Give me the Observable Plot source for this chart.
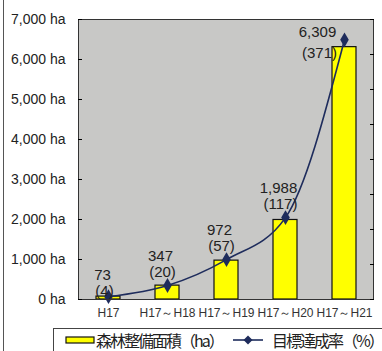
<!DOCTYPE html>
<html>
<head>
<meta charset="utf-8">
<script src="https://cdn.jsdelivr.net/npm/d3@7"></script>
<script src="https://cdn.jsdelivr.net/npm/@observablehq/plot@0.6"></script>
<style>
  html, body { margin: 0; padding: 0; background: #fff; overflow: hidden; }
  #wrap { position: relative; width: 382px; height: 351px; overflow: hidden; }
  #edge { position: absolute; left: 3px; top: 0; width: 1px; height: 351px; background: #555; }
  #legend {
    position: absolute; left: 53px; top: 328px; width: 340px; height: 40px;
    border: 1px solid #444; background: #fff;
    font-family: "Noto Sans CJK JP", sans-serif; font-size: 16px; letter-spacing: -2px; color: #222;
  }
  #legend .item { position: absolute; top: 0; height: 22px; display: flex; align-items: center; }
  #legend svg { display: block; }
</style>
</head>
<body>
<div id="wrap">
  <div id="chart"></div>
  <div id="edge"></div>
  <div id="legend">
    <div class="item" style="left:11px">
      <svg width="30" height="10"><rect x="1" y="2" width="28" height="6" fill="#ffff00" stroke="#111" stroke-width="1.2"/></svg>
      <span style="margin-left:1px">森林整備面積（ha）</span>
    </div>
    <div class="item" style="left:178px">
      <svg width="32" height="12"><line x1="1" y1="6" x2="31" y2="6" stroke="#1e2c5c" stroke-width="1.6"/><path d="M16,1.5 L20.5,6 L16,10.5 L11.5,6 Z" fill="#1e2c5c"/></svg>
      <span style="margin-left:8px">目標達成率（%）</span>
    </div>
  </div>
</div>
<script>
// Cumulative forest maintenance area and target achievement rate
const categories = ["H17", "H17～H18", "H17～H19", "H17～H20", "H17～H21"];
const area = [73, 347, 972, 1988, 6309];      // ha
const rate = [4, 20, 57, 117, 371];           // %
const areaTicks = [0, 1000, 2000, 3000, 4000, 5000, 6000, 7000];
const rateTicks = [0, 50, 100, 150, 200, 250, 300, 350, 400];

// The rate series shares the plot with a secondary 0–400 % axis
const areaMax = 7000, rateMax = 400;
const k = areaMax / rateMax;

const rows = categories.map((c, i) => ({
  c, i, area: area[i], rate: rate[i], rateY: rate[i] * k
}));

const navy = "#1e2c5c";
const font = "Liberation Sans, Arial, sans-serif";

function labels(filter, dx, dyVal, dyPct) {
  const data = rows.filter(filter);
  return [
    Plot.text(data, {x: "c", y: "rateY", text: d => d3.format(",")(d.area),
      dx, dy: dyVal, fontSize: 15, fill: "#222", fontFamily: font}),
    Plot.text(data, {x: "c", y: "rateY", text: d => `(${d.rate})`,
      dx: dx + 2, dy: dyPct, fontSize: 15, fill: "#222", fontFamily: font})
  ];
}

const chart = Plot.plot({
  width: 382,
  height: 324,
  marginLeft: 78,
  marginRight: 9,
  marginTop: 19,
  marginBottom: 25,
  style: {fontFamily: font, background: "transparent"},
  x: {type: "band", domain: categories, paddingInner: 0.6, paddingOuter: 0.3, label: null},
  y: {domain: [0, areaMax], label: null},
  marks: [
    Plot.frame({fill: "#c8c8c6"}),
    Plot.barY(rows, {x: "c", y: "area", fill: "#ffff00", stroke: "#111", strokeWidth: 1.2}),
    Plot.line(rows, {x: "c", y: "rateY", stroke: navy, strokeWidth: 1.6, curve: "monotone-x"}),
    Plot.dot(rows, {x: "c", y: "rateY", symbol: "diamond", fill: navy, r: 4.5}),
    ...labels(d => d.i === 0, -6, -22, -6),
    ...labels(d => d.i > 0 && d.i < 4, -7, -29, -13),
    ...labels(d => d.i === 4, -27, -8, 13),
    Plot.frame({stroke: "#333", strokeWidth: 1}),
    Plot.axisY(areaTicks, {anchor: "left", tickSize: -4, tickPadding: 17,
      tickFormat: d => `${d3.format(",")(d)} ha`, fontSize: 14, fill: "#222", label: null}),
    Plot.axisY(rateTicks.map(r => r * k), {anchor: "right", tickSize: -4,
      tickFormat: () => "", label: null}),
    Plot.axisX({tickSize: 0, tickPadding: 9, fontSize: 12, fill: "#333", label: null})
  ]
});

document.getElementById("chart").append(chart);
</script>
</body>
</html>
